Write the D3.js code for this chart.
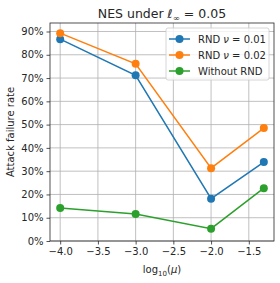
<!DOCTYPE html>
<html><head><meta charset="utf-8">
<script src="https://cdn.jsdelivr.net/npm/d3@7"></script>
<style>body{margin:0;background:#fff}svg{display:block}text{font-family:"DejaVu Sans",sans-serif;fill:#262626}</style>
</head><body>
<script>
const xValues = [-4.0, -3.0, -2.0, -1.301];
const rnd001 = [0.867, 0.712, 0.182, 0.339];
const rnd002 = [0.893, 0.761, 0.313, 0.485];
const withoutRnd = [0.142, 0.116, 0.053, 0.227];
const seriesNames = ["RND \u03bd = 0.01", "RND \u03bd = 0.02", "Without RND"];
const xTicks = [-4.0, -3.5, -3.0, -2.5, -2.0, -1.5];
const yTicks = [0, 0.1, 0.2, 0.3, 0.4, 0.5, 0.6, 0.7, 0.8, 0.9];
const colors = ["#1f77b4", "#ff7f0e", "#2ca02c"];

const W = 280, H = 283;
const m = {l: 50, r: 6, t: 23, b: 42};
const svg = d3.select("body").append("svg").attr("width", W).attr("height", H);
const x = d3.scaleLinear().domain([-4.135, -1.166]).range([m.l, W - m.r]);
const y = d3.scaleLinear().domain([0, 0.9365]).range([H - m.b, m.t]);

// grid
const g = svg.append("g");
g.selectAll(".gx").data(xTicks).join("line")
  .attr("x1", d => x(d)).attr("x2", d => x(d)).attr("y1", m.t).attr("y2", H - m.b)
  .attr("stroke", "#b0b0b0").attr("stroke-width", 0.8);
g.selectAll(".gy").data(yTicks).join("line")
  .attr("y1", d => y(d)).attr("y2", d => y(d)).attr("x1", m.l).attr("x2", W - m.r)
  .attr("stroke", "#b0b0b0").attr("stroke-width", 0.8);

// series
const all = [rnd001, rnd002, withoutRnd];
const line = d3.line().x((d, i) => x(xValues[i])).y(d => y(d));
all.forEach((s, k) => {
  svg.append("path").datum(s).attr("d", line).attr("fill", "none")
    .attr("stroke", colors[k]).attr("stroke-width", 1.5);
  svg.selectAll(".p" + k).data(s).join("circle")
    .attr("cx", (d, i) => x(xValues[i])).attr("cy", d => y(d)).attr("r", 4)
    .attr("fill", colors[k]);
});

// axes
const fmt = d => (d < 0 ? "\u2212" : "") + Math.abs(d).toFixed(1);
const xa = svg.append("g").attr("transform", `translate(0,${H - m.b})`)
  .call(d3.axisBottom(x).tickValues(xTicks).tickFormat(fmt).tickSize(3.5).tickPadding(3));
const ya = svg.append("g").attr("transform", `translate(${m.l},0)`)
  .call(d3.axisLeft(y).tickValues(yTicks).tickFormat(d => Math.round(d * 100) + "%").tickSize(3.5).tickPadding(3));
[xa, ya].forEach(a => {
  a.select(".domain").remove();
  a.selectAll("text").style("font-size", "10px").attr("fill", "#262626");
  a.selectAll("line").attr("stroke", "#262626").attr("stroke-width", 0.8);
});
svg.append("rect").attr("x", m.l).attr("y", m.t).attr("width", W - m.r - m.l).attr("height", H - m.b - m.t)
  .attr("fill", "none").attr("stroke", "#262626").attr("stroke-width", 0.8);

// title
const t = svg.append("text").attr("x", (m.l + W - m.r) / 2).attr("y", 18).attr("text-anchor", "middle").style("font-size", "12.5px");
t.append("tspan").text("NES under ");
t.append("tspan").text("\u2113").style("font-style", "italic");
t.append("tspan").text("\u221e").attr("dy", 2.5).style("font-size", "8.5px");
t.append("tspan").text(" = 0.05").attr("dy", -2.5);

// axis labels
const xl = svg.append("text").attr("x", (m.l + W - m.r) / 2).attr("y", 273).attr("text-anchor", "middle").style("font-size", "10px");
xl.append("tspan").text("log");
xl.append("tspan").text("10").attr("dy", 2.5).style("font-size", "7px");
xl.append("tspan").text("(").attr("dy", -2.5);
xl.append("tspan").text("\u03bc").style("font-style", "italic");
xl.append("tspan").text(")");
svg.append("text").attr("transform", `translate(14,${(m.t + H - m.b) / 2}) rotate(-90)`)
  .attr("text-anchor", "middle").style("font-size", "10px").text("Attack failure rate");

// legend
const lg = svg.append("g");
lg.append("rect").attr("x", 166).attr("y", 28).attr("width", 103).attr("height", 52).attr("rx", 2)
  .attr("fill", "rgba(255,255,255,0.8)").attr("stroke", "#cccccc").attr("stroke-width", 0.8);
seriesNames.forEach((n, k) => {
  const yy = 39 + k * 16;
  lg.append("line").attr("x1", 169).attr("x2", 190).attr("y1", yy).attr("y2", yy).attr("stroke", colors[k]).attr("stroke-width", 1.5);
  lg.append("circle").attr("cx", 179.5).attr("cy", yy).attr("r", 4).attr("fill", colors[k]);
  const tx = lg.append("text").attr("x", 198).attr("y", yy + 3.5).style("font-size", "10px");
  if (k < 2) {
    tx.append("tspan").text("RND ");
    tx.append("tspan").text("\u03bd").style("font-style", "italic");
    tx.append("tspan").text(k === 0 ? " = 0.01" : " = 0.02");
  } else tx.text(n);
});
</script>
</body></html>
